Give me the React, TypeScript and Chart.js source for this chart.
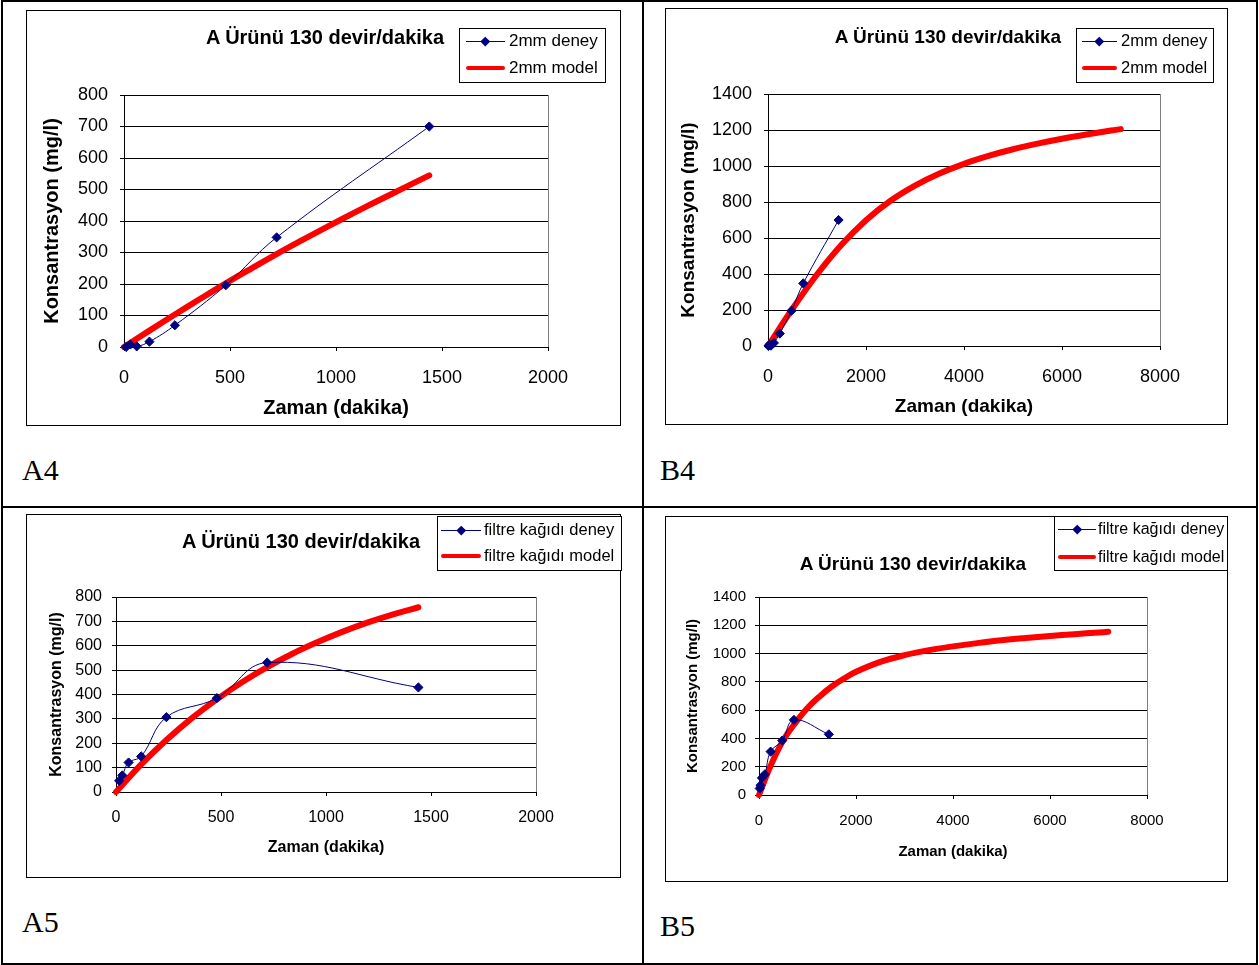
import React, { useEffect, useRef } from 'react';
import { Chart, registerables } from 'chart.js';
Chart.register(...registerables);

// ---------- data ----------
const A4_DENEY_T = [10, 30, 60, 120, 240, 480, 720, 1440];
const A4_DENEY_C = [0, 8, 2, 17, 69, 196, 348, 700];
const A4_MODEL_T = [0, 120, 240, 360, 480, 600, 720, 840, 960, 1080, 1200, 1320, 1440];
const A4_MODEL_C = [0, 52, 103, 153, 202, 249, 295, 339, 382, 424, 465, 505, 545];

const B4_DENEY_T = [10, 30, 60, 120, 240, 480, 720, 1440];
const B4_DENEY_C = [0, 8, 2, 17, 69, 196, 348, 700];
const B4_MODEL_T = [0, 500, 1000, 1500, 2000, 2500, 3000, 3500, 4000, 4500, 5000, 5500, 6000, 6500, 7000, 7200];
const B4_MODEL_C = [0, 207, 397, 562, 699, 807, 891, 958, 1012, 1056, 1093, 1124, 1151, 1175, 1197, 1205];

const A5_DENEY_T = [15, 30, 60, 120, 240, 480, 720, 1440];
const A5_DENEY_C = [46, 68, 121, 146, 307, 385, 531, 429];
const A5_MODEL_T = [0, 120, 240, 360, 480, 600, 720, 840, 960, 1080, 1200, 1320, 1440];
const A5_MODEL_C = [0, 113, 213, 302, 380, 450, 512, 567, 615, 658, 696, 729, 758];

const B5_DENEY_T = [15, 30, 60, 120, 240, 480, 720, 1440];
const B5_DENEY_C = [46, 68, 121, 146, 307, 385, 531, 429];
const B5_MODEL_T = [0, 250, 500, 750, 1000, 1250, 1500, 1750, 2000, 2500, 3000, 3500, 4000, 4500, 5000, 5500, 6000, 6500, 7000, 7200];
const B5_MODEL_C = [0, 215, 387, 510, 615, 697, 767, 823, 871, 941, 989, 1024, 1051, 1074, 1094, 1110, 1124, 1137, 1149, 1154];

const TITLE = 'A Ürünü 130 devir/dakika';
const X_TITLE = 'Zaman (dakika)';
const Y_TITLE = 'Konsantrasyon (mg/l)';
const LEG_2MM = ['2mm deney', '2mm model'];
const LEG_FK = ['filtre kağıdı deney', 'filtre kağıdı model'];

const FONT = "'Liberation Sans', Arial, Helvetica, sans-serif";
const NAVY = '#000080';
const RED = '#FF0000';

type Panel = {
  key: string;
  label: string; labelX: number; labelTop: number;
  frame: { x: number; y: number; w: number; h: number };
  plot: { l: number; r: number; t: number; b: number };
  xMax: number; xStep: number; yMax: number; yStep: number;
  tickFs: number; tickPadX: number; tickPadY: number;
  yTitleFs: number; yTitlePad: number; xTitleFs: number; xTitlePad: number;
  title: { cx: number; cy: number; fs: number };
  legend: { x: number; y: number; w: number; h: number; y1: number; y2: number; lx1: number; lx2: number; tx: number; fs: number; texts: string[] };
  dT: number[]; dC: number[]; mT: number[]; mC: number[];
};

const PANELS: Panel[] = [
  {
    key: 'A4', label: 'A4', labelX: 22, labelTop: 455,
    frame: { x: 26, y: 10, w: 595, h: 416 },
    plot: { l: 124, r: 548, t: 95, b: 347 },
    xMax: 2000, xStep: 500, yMax: 800, yStep: 100,
    tickFs: 18, tickPadX: 16, tickPadY: 12,
    yTitleFs: 20, yTitlePad: 14, xTitleFs: 20, xTitlePad: 6,
    title: { cx: 325, cy: 37, fs: 20 },
    legend: { x: 459, y: 28, w: 147, h: 55, y1: 41, y2: 68, lx1: 466, lx2: 505, tx: 509, fs: 17, texts: LEG_2MM },
    dT: A4_DENEY_T, dC: A4_DENEY_C, mT: A4_MODEL_T, mC: A4_MODEL_C,
  },
  {
    key: 'B4', label: 'B4', labelX: 660, labelTop: 455,
    frame: { x: 665, y: 8, w: 563, h: 417 },
    plot: { l: 768, r: 1160, t: 94, b: 346 },
    xMax: 8000, xStep: 2000, yMax: 1400, yStep: 200,
    tickFs: 18, tickPadX: 16, tickPadY: 12,
    yTitleFs: 19, yTitlePad: 12.6, xTitleFs: 19, xTitlePad: 6.6,
    title: { cx: 948, cy: 37, fs: 19 },
    legend: { x: 1076, y: 28, w: 138, h: 55, y1: 41, y2: 68, lx1: 1082, lx2: 1117, tx: 1121, fs: 16.5, texts: LEG_2MM },
    dT: B4_DENEY_T, dC: B4_DENEY_C, mT: B4_MODEL_T, mC: B4_MODEL_C,
  },
  {
    key: 'A5', label: 'A5', labelX: 22, labelTop: 907,
    frame: { x: 26, y: 514, w: 595, h: 364 },
    plot: { l: 116, r: 536, t: 597, b: 792 },
    xMax: 2000, xStep: 500, yMax: 800, yStep: 100,
    tickFs: 16, tickPadX: 12.4, tickPadY: 10,
    yTitleFs: 16, yTitlePad: 21.4, xTitleFs: 16, xTitlePad: 20.9,
    title: { cx: 301, cy: 541, fs: 20 },
    legend: { x: 437, y: 516, w: 185, h: 55, y1: 530, y2: 556, lx1: 441, lx2: 481, tx: 484, fs: 16.5, texts: LEG_FK },
    dT: A5_DENEY_T, dC: A5_DENEY_C, mT: A5_MODEL_T, mC: A5_MODEL_C,
  },
  {
    key: 'B5', label: 'B5', labelX: 660, labelTop: 911,
    frame: { x: 665, y: 516, w: 563, h: 366 },
    plot: { l: 759, r: 1147, t: 597, b: 795 },
    xMax: 8000, xStep: 2000, yMax: 1400, yStep: 200,
    tickFs: 15, tickPadX: 13, tickPadY: 9,
    yTitleFs: 15, yTitlePad: 19, xTitleFs: 15, xTitlePad: 21,
    title: { cx: 913, cy: 564, fs: 19 },
    legend: { x: 1054, y: 516, w: 174, h: 55, y1: 529, y2: 557, lx1: 1058, lx2: 1096, tx: 1098, fs: 16, texts: LEG_FK },
    dT: B5_DENEY_T, dC: B5_DENEY_C, mT: B5_MODEL_T, mC: B5_MODEL_C,
  },
];

function PanelChart({ p }: { p: Panel }) {
  const ref = useRef<HTMLCanvasElement>(null);
  useEffect(() => {
    const f = p.frame;
    const chart = new Chart(ref.current!, {
      type: 'line',
      data: {
        datasets: [
          {
            label: p.legend.texts[0],
            data: p.dT.map((t, i) => ({ x: t, y: p.dC[i] })),
            borderColor: NAVY,
            backgroundColor: NAVY,
            borderWidth: 1,
            pointStyle: 'rectRot',
            pointRadius: 4.6,
            pointBackgroundColor: NAVY,
            pointBorderColor: NAVY,
            tension: 0.4,
            clip: false,
          } as any,
          {
            label: p.legend.texts[1],
            data: p.mT.map((t, i) => ({ x: t, y: p.mC[i] })),
            borderColor: RED,
            borderWidth: 6,
            pointRadius: 0,
            tension: 0.4,
            borderCapStyle: 'round',
            borderJoinStyle: 'round',
            clip: false,
          } as any,
        ],
      },
      options: {
        animation: false,
        responsive: false,
        maintainAspectRatio: false,
        layout: { padding: { left: 0, top: p.plot.t - f.y, right: f.x + f.w - p.plot.r, bottom: 0 } },
        plugins: { legend: { display: false }, title: { display: false }, tooltip: { enabled: false } },
        scales: {
          x: {
            type: 'linear',
            min: 0, max: p.xMax,
            ticks: {
              stepSize: p.xStep, color: '#000', padding: p.tickPadX, maxRotation: 0, autoSkip: false,
              font: { family: FONT, size: p.tickFs },
              callback: (v: any) => String(v),
            },
            grid: {
              color: (ctx: any) => (ctx.tick && ctx.tick.value === p.xMax ? '#808080' : 'rgba(0,0,0,0)'),
              tickColor: '#000', tickLength: 4, drawTicks: true, lineWidth: 1,
            },
            border: { display: true, color: '#000', width: 1 },
            title: {
              display: true, text: X_TITLE, color: '#000',
              font: { family: FONT, size: p.xTitleFs, weight: 'bold' },
              padding: { top: 0, bottom: p.xTitlePad },
            },
            afterFit: (s: any) => { s.height = f.y + f.h - p.plot.b; },
          },
          y: {
            type: 'linear',
            min: 0, max: p.yMax,
            ticks: {
              stepSize: p.yStep, color: '#000', padding: p.tickPadY,
              font: { family: FONT, size: p.tickFs },
              callback: (v: any) => String(v),
            },
            grid: { color: '#000', tickColor: '#000', tickLength: 4, drawTicks: true, lineWidth: 1 },
            border: { display: true, color: '#000', width: 1 },
            title: {
              display: true, text: Y_TITLE, color: '#000',
              font: { family: FONT, size: p.yTitleFs, weight: 'bold' },
              padding: { top: p.yTitlePad, bottom: 0 },
            },
            afterFit: (s: any) => { s.width = p.plot.l - f.x; },
          },
        },
      } as any,
    });
    return () => chart.destroy();
  }, [p]);
  const f = p.frame;
  return (
    <canvas
      ref={ref}
      width={f.w}
      height={f.h}
      style={{ position: 'absolute', left: f.x, top: f.y, width: f.w, height: f.h }}
    />
  );
}

function PanelOverlay({ p }: { p: Panel }) {
  const f = p.frame;
  const L = p.legend;
  const diamondCx = (L.lx1 + L.lx2) / 2;
  const ds = 6.5;
  return (
    <>
      <div style={{ position: 'absolute', left: f.x, top: f.y, width: f.w, height: f.h, border: '1px solid #000', boxSizing: 'border-box', pointerEvents: 'none' }} />
      <div
        style={{
          position: 'absolute', left: p.title.cx - 200, width: 400, top: p.title.cy - p.title.fs * 0.6,
          lineHeight: `${p.title.fs * 1.2}px`, fontSize: p.title.fs, fontFamily: FONT, fontWeight: 'bold',
          textAlign: 'center', whiteSpace: 'nowrap', color: '#000',
        }}
      >
        {TITLE}
      </div>
      <div style={{ position: 'absolute', left: L.x, top: L.y, width: L.w, height: L.h, border: '1px solid #000', boxSizing: 'border-box', background: '#fff' }} />
      <div style={{ position: 'absolute', left: L.lx1, top: L.y1 - 0.5, width: L.lx2 - L.lx1, height: 1, background: NAVY }} />
      <div style={{ position: 'absolute', left: diamondCx - ds / 2, top: L.y1 - ds / 2, width: ds, height: ds, background: NAVY, transform: 'rotate(45deg)' }} />
      <div style={{ position: 'absolute', left: L.lx1, top: L.y2 - 2, width: L.lx2 - L.lx1, height: 4, background: RED, borderRadius: 2 }} />
      {[L.y1, L.y2].map((yy, i) => (
        <div
          key={i}
          style={{
            position: 'absolute', left: L.tx, top: yy - L.fs * 0.6, lineHeight: `${L.fs * 1.2}px`,
            fontSize: L.fs, fontFamily: FONT, whiteSpace: 'nowrap', color: '#000',
          }}
        >
          {L.texts[i]}
        </div>
      ))}
      <div
        style={{
          position: 'absolute', left: p.labelX, top: p.labelTop, fontSize: 30, lineHeight: '30px',
          fontFamily: "'Liberation Serif', 'Times New Roman', serif", color: '#000', whiteSpace: 'nowrap',
        }}
      >
        {p.label}
      </div>
    </>
  );
}

export default function App() {
  return (
    <div style={{ position: 'absolute', left: 0, top: 0, width: 1259, height: 965, background: '#fff', overflow: 'hidden' }}>
      {/* table borders */}
      <div style={{ position: 'absolute', left: 1, top: 0, width: 1257, height: 965, border: '2px solid #000', boxSizing: 'border-box' }} />
      <div style={{ position: 'absolute', left: 642, top: 0, width: 2, height: 965, background: '#000' }} />
      <div style={{ position: 'absolute', left: 1, top: 506, width: 1257, height: 2, background: '#000' }} />
      {PANELS.map((p) => (
        <React.Fragment key={p.key}>
          <PanelChart p={p} />
          <PanelOverlay p={p} />
        </React.Fragment>
      ))}
    </div>
  );
}
